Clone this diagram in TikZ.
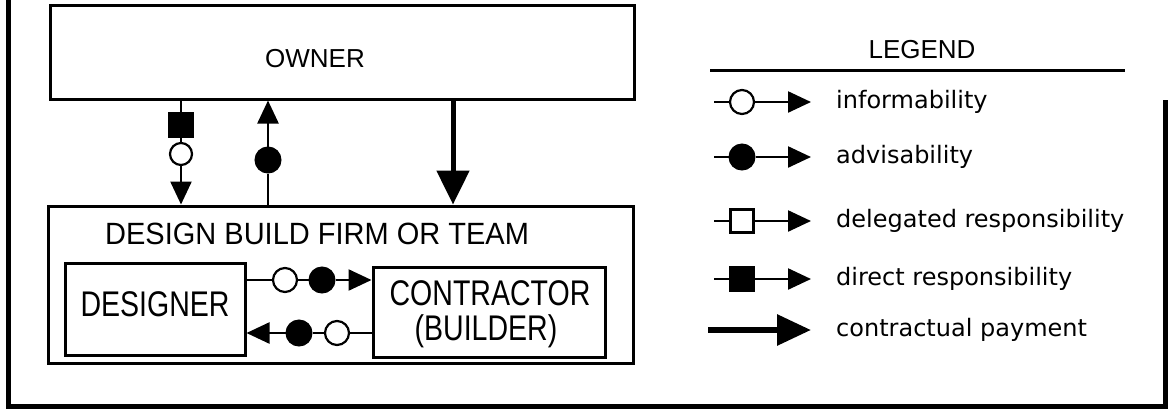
\documentclass[tikz,border=0pt]{standalone}
\usepackage{fontspec}
\setmainfont{Liberation Sans}
\newfontfamily\legfont{DejaVu Sans}
\usetikzlibrary{arrows.meta}
\begin{document}
\begin{tikzpicture}[x=1pt,y=-1pt]
\tikzset{
  box/.style={draw, line width=3pt, inner sep=0pt},
  conn/.style={line width=2.4pt},
  tip/.style={conn, -{Triangle[length=23pt,width=21pt]}},
  bigtip/.style={line width=5pt, -{Triangle[length=34pt,width=32pt]}},
  paytip/.style={line width=6pt, -{Triangle[length=34pt,width=30pt]}},
  ocirc/.style={circle, draw, line width=2.2pt, fill=white, minimum size=24pt, inner sep=0pt},
  fcirc/.style={circle, draw, line width=1pt, fill=black, minimum size=26pt, inner sep=0pt},
  osq/.style={rectangle, draw, line width=2.2pt, fill=white, minimum size=23pt, inner sep=0pt},
  fsq/.style={rectangle, draw, line width=1pt, fill=black, minimum size=25pt, inner sep=0pt},
  bigtxt/.style={font=\fontsize{31}{36}\selectfont, inner sep=0pt, xscale=0.92, yscale=1.15},
  ttltxt/.style={font=\fontsize{29}{34}\selectfont, inner sep=0pt, anchor=west, yscale=1.06},
  owntxt/.style={font=\fontsize{26}{30}\selectfont, inner sep=0pt},
  legtxt/.style={font=\legfont\fontsize{24}{28}\selectfont, inner sep=0pt, anchor=west},
}
\useasboundingbox (0,0) rectangle (1168,413);
% outer frame
\draw[line width=5pt] (8,0) -- (8,406) -- (1165,406) -- (1165,100);
% main boxes
\node[box, minimum width=584pt, minimum height=94pt] (owner) at (342,52) {};
\node[owntxt] (ownerT) at (315,59) {OWNER};
\node[box, minimum width=585pt, minimum height=157pt] (db) at (340.5,284.5) {};
\node[ttltxt] (dbT) at (105,234) {DESIGN BUILD FIRM OR TEAM};
\node[box, minimum width=180pt, minimum height=92pt] (des) at (155,309) {};
\node[bigtxt] (desT) at (155,304) {DESIGNER};
\node[box, minimum width=232pt, minimum height=90pt] (con) at (489,312) {};
\node[bigtxt] (conT1) at (490,293) {CONTRACTOR};
\node[bigtxt] (conT2) at (486,331) {(BUILDER)};
% vertical connectors
\node[fsq] (v1a) at (181,125) {};
\node[ocirc, minimum size=22pt] (v1b) at (181,154) {};
\draw[conn] (owner.south -| v1a) -- (v1a);
\draw[conn] (v1a) -- (v1b);
\draw[tip] (v1b) -- (db.north -| v1b);
\node[fcirc] (v2a) at (268,160) {};
\draw[conn] (db.north -| v2a) -- (v2a);
\draw[tip] (v2a) -- (owner.south -| v2a);
\coordinate (v3) at (453,0);
\draw[bigtip] (owner.south -| v3) -- (db.north -| v3);
% horizontal connectors
\coordinate (h1) at (0,280);
\coordinate (h2) at (0,333);
\node[ocirc] (h1a) at (285,280) {};
\node[fcirc] (h1b) at (322,280) {};
\draw[conn] (des.east |- h1) -- (h1a);
\draw[conn] (h1a) -- (h1b);
\draw[tip] (h1b) -- (con.west |- h1);
\node[ocirc] (h2a) at (337,333) {};
\node[fcirc] (h2b) at (299,333) {};
\draw[conn] (con.west |- h2) -- (h2a);
\draw[conn] (h2a) -- (h2b);
\draw[tip] (h2b) -- (des.east |- h2);
% legend
\node[owntxt] (legT) at (922,50) {LEGEND};
\coordinate (lgL) at (710,70);
\coordinate (lgR) at (1125,70);
\draw[line width=3pt] (lgL) -- (lgR);
\foreach \y/\sty/\txt [count=\i] in {102/ocirc/informability, 157/fcirc/advisability, 221/osq/delegated responsibility, 279/fsq/direct responsibility} {
  \coordinate (ls\i) at (714,\y);
  \coordinate (le\i) at (811,\y);
  \node[\sty] (lm\i) at (742,\y) {};
  \draw[conn] (ls\i) -- (lm\i);
  \draw[tip] (lm\i) -- (le\i);
  \node[legtxt] (lt\i) at (836,\y) {\txt};
}
\coordinate (ls5) at (708,330);
\coordinate (le5) at (811,330);
\draw[paytip] (ls5) -- (le5);
\node[legtxt] (lt5) at (836,330) {contractual payment};
\end{tikzpicture}
\end{document}
